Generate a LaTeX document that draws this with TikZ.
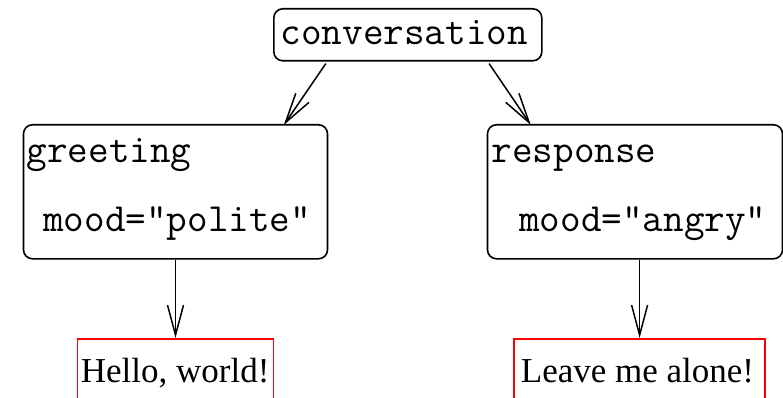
\documentclass[tikz,border=0pt]{standalone}
\usepackage{fontspec}
\setmainfont{Liberation Serif}
\usetikzlibrary{arrows.meta,calc}
\begin{document}
\begin{tikzpicture}[x=1pt,y=-1pt,
  box/.style={draw=black,line width=1.6pt,rounded corners=9pt,inner sep=0pt,anchor=north west},
  leaf/.style={draw=red,line width=1.6pt,inner sep=0pt,anchor=north west,minimum height=80pt},
  mono/.style={font=\fontsize{40}{44}\selectfont\ttfamily,inner sep=0pt,anchor=base west},
  serif/.style={font=\fontsize{35}{40}\selectfont\rmfamily,inner sep=0pt,anchor=base west},
  edge/.style={line width=1.5pt,-{Straight Barb[length=30pt,width=16pt,line width=1.5pt]}}]
\clip (0,0) rectangle (783,398);
% boxes
\node[box,minimum width=268pt,minimum height=52pt] (conv) at (273,8) {};
\node[box,minimum width=304pt,minimum height=134pt] (greet) at (22.7,124) {};
\node[box,minimum width=295pt,minimum height=134pt] (resp) at (486.7,124) {};
\node[leaf,minimum width=196pt] (hello) at (76.7,338) {};
\node[leaf,minimum width=251pt] (leave) at (513.3,338) {};
% texts
\node[mono] (tconv) at (280.5,45) {conversation};
\node[mono] (tgreet) at (26.5,162) {greeting};
\node[mono] (tgmood) at (43,231) {mood="polite"};
\node[mono] (tresp) at (491.5,162) {response};
\node[mono] (trmood) at (519,231) {mood="angry"};
\node[serif] (thello) at (80.7,382) {Hello, world!};
\node[serif] (tleave) at (520.7,382) {Leave me alone!};
% connectors
\draw[edge] ([xshift=-82pt,yshift=-2pt]conv.south) -- ([xshift=108.3pt,yshift=-1pt]greet.north);
\draw[edge] ([xshift=81.3pt,yshift=-2pt]conv.south) -- ([xshift=-104.2pt,yshift=-1pt]resp.north);
\draw[edge] (greet.south) -- (hello.north);
\draw[edge] (leave.north |- resp.south) -- (leave.north);
\end{tikzpicture}
\end{document}
